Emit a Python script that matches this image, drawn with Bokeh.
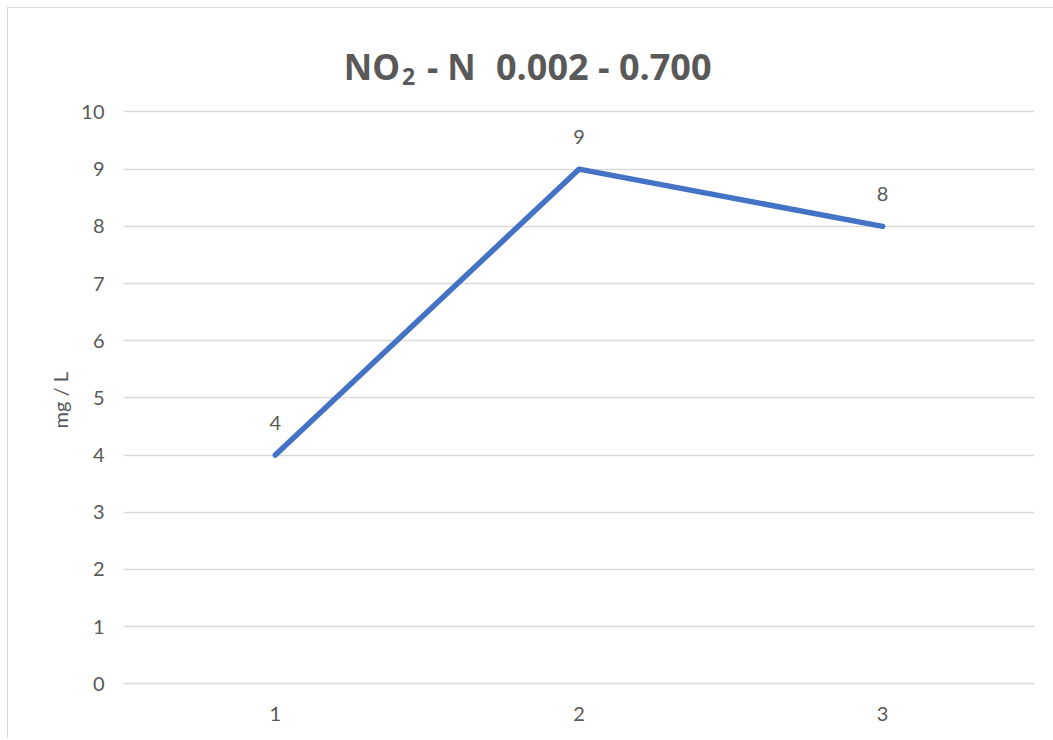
from bokeh.plotting import figure
from bokeh.models import ColumnDataSource, LabelSet, Label, FixedTicker, Range1d, Title
from bokeh.core.properties import value
from bokeh.embed import file_html
from bokeh.resources import INLINE

# data
categories = [1, 2, 3]
values = [4, 9, 8]
y_ticks = list(range(0, 11))
title_main = "NO"
title_sub = "2"
title_mid = "- N"
title_range = "0.002 - 0.700"
y_label = "mg / L"

FONT = "Lato"
TFONT = "Open Sans"
GREY = "#595959"
GRID = "#d9d9d9"
BLUE = "#4472C4"

# y range extends above 10 so that the title can sit inside the frame
p = figure(width=1046, height=731, margin=(7, 0, 0, 7),
           x_range=Range1d(0.5, 3.5), y_range=Range1d(-0.03, 11.6),
           output_backend="svg", toolbar_location=None,
           min_border_left=115, min_border_right=20,
           min_border_top=12, min_border_bottom=54)
p.styles = {"border-left": "1px solid #d9d9d9", "border-top": "1px solid #d9d9d9"}
p.outline_line_color = None
p.background_fill_color = "white"
p.border_fill_color = "white"

p.xaxis.ticker = FixedTicker(ticks=categories)
p.yaxis.ticker = FixedTicker(ticks=y_ticks)
for ax in (p.xaxis, p.yaxis):
    ax.axis_line_color = None
    ax.major_tick_line_color = None
    ax.minor_tick_line_color = None
    ax.major_tick_out = 0
    ax.major_tick_in = 0
    ax.major_label_text_font = FONT
    ax.major_label_text_font_size = "20px"
    ax.major_label_text_color = GREY
p.xaxis.major_label_standoff = 21
p.yaxis.major_label_standoff = 19

p.xgrid.grid_line_color = None
p.ygrid.grid_line_color = GRID
p.ygrid.grid_line_width = 1.3

src = ColumnDataSource(dict(x=categories, y=values, t=[str(v) for v in values]))
p.line("x", "y", source=src, line_width=5.5, line_color=BLUE,
       line_cap="round", line_join="round")
p.add_layout(LabelSet(x="x", y="y", text="t", source=src, y_offset=32,
                      text_align="center", text_baseline="middle",
                      text_font=value(FONT), text_font_size=value("20px"),
                      text_color=value(GREY)))

# y-axis title as a side title, shifted so it is centred on the 0..10 span
p.add_layout(Title(text=y_label, align="left", offset=257, standoff=14,
                   text_font=FONT, text_font_size="20px", text_font_style="normal",
                   text_color=GREY), "left")

# title pieces anchored above the middle category (x=2, y=10)
common = dict(x=2, y=10, text_font=TFONT, text_font_style="bold",
              text_color=GREY, text_baseline="alphabetic")
p.add_layout(Label(text=title_main, x_offset=-179, y_offset=45, text_align="right",
                   text_font_size="35px", **common))
p.add_layout(Label(text=title_sub, x_offset=-177, y_offset=35, text_align="left",
                   text_font_size="23px", **common))
p.add_layout(Label(text=title_mid, x_offset=-152, y_offset=45, text_align="left",
                   text_font_size="35px", **common))
p.add_layout(Label(text=title_range, x_offset=-83, y_offset=45, text_align="left",
                   text_font_size="36px", **common))

open("out.html", "w").write(file_html(p, INLINE))
